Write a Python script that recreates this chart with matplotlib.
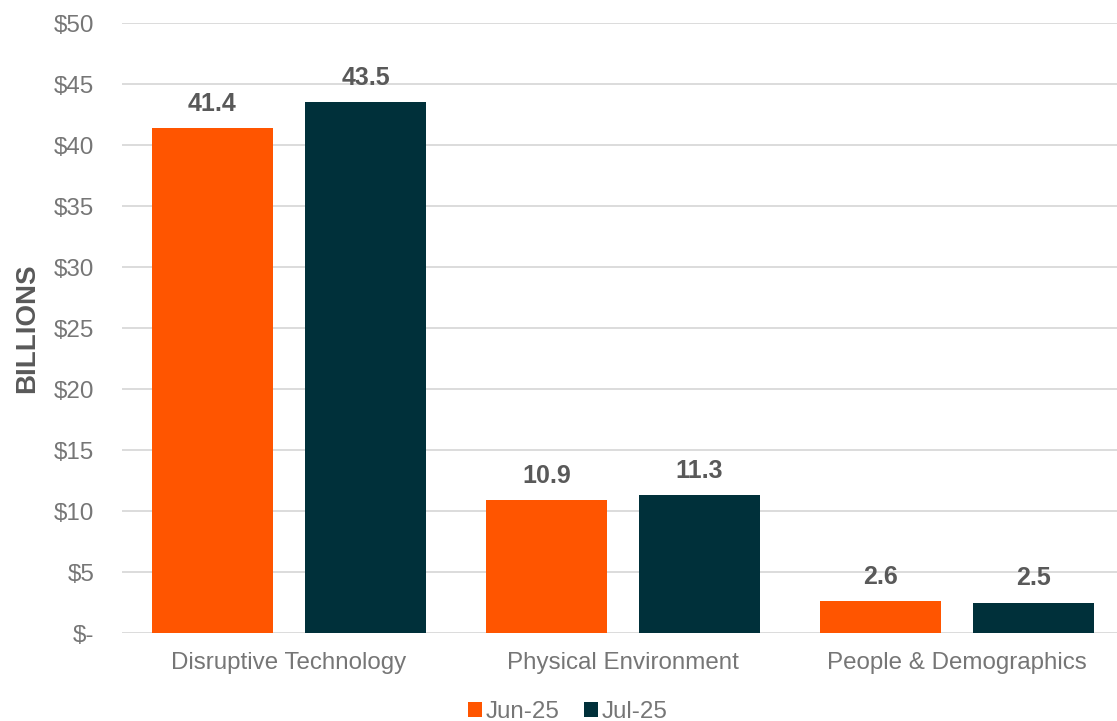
import matplotlib.pyplot as plt
import numpy as np

plt.rcParams['font.family'] = ['Liberation Sans', 'DejaVu Sans']

categories = ['Disruptive Technology', 'Physical Environment', 'People & Demographics']
jun_25 = [41.4, 10.9, 2.6]
jul_25 = [43.5, 11.3, 2.5]
series_names = ['Jun-25', 'Jul-25']
y_ticks = [0, 5, 10, 15, 20, 25, 30, 35, 40, 45, 50]
y_tick_labels = ['$-', '$5', '$10', '$15', '$20', '$25', '$30', '$35', '$40', '$45', '$50']

orange = '#FF5500'
dark = '#00303A'
label_grey = '#595959'
tick_grey = '#767676'

fig = plt.figure(figsize=(11.17, 7.21), dpi=100)
ax = fig.add_axes([0.1092, 0.122, 0.8908, 0.846])

x = np.arange(len(categories))
w = 0.362
off = 0.229
b1 = ax.bar(x - off, jun_25, w, color=orange, label=series_names[0], zorder=3)
b2 = ax.bar(x + off, jul_25, w, color=dark, label=series_names[1], zorder=3)

for bars, vals in ((b1, jun_25), (b2, jul_25)):
    for b, v in zip(bars, vals):
        ax.text(b.get_x() + b.get_width() / 2, v + 1.0, f'{v:.1f}',
                ha='center', va='bottom', fontsize=18, fontweight='bold', color=label_grey)

ax.set_ylim(0, 50)
ax.set_xlim(-0.5, 2.479)
ax.set_yticks(y_ticks)
ax.set_yticklabels(y_tick_labels)
ax.set_xticks(x)
ax.set_xticklabels(categories)
ax.tick_params(axis='both', length=0, labelsize=17.4, labelcolor=tick_grey)
ax.tick_params(axis='y', pad=20)
ax.tick_params(axis='x', pad=14)
ax.grid(axis='y', color='#D9D9D9', linewidth=1.3, zorder=0)
for s in ax.spines.values():
    s.set_visible(False)

ax.set_ylabel('BILLIONS', fontsize=20, fontweight='bold', color=label_grey, labelpad=10)

ax.legend(loc='center', bbox_to_anchor=(0.448, -0.129), ncol=2, frameon=False,
          fontsize=17.4, labelcolor=tick_grey, handlelength=0.6, handleheight=0.6,
          handletextpad=0.15, columnspacing=1.0, borderpad=0.1)

fig.savefig('out.png', dpi=100)
